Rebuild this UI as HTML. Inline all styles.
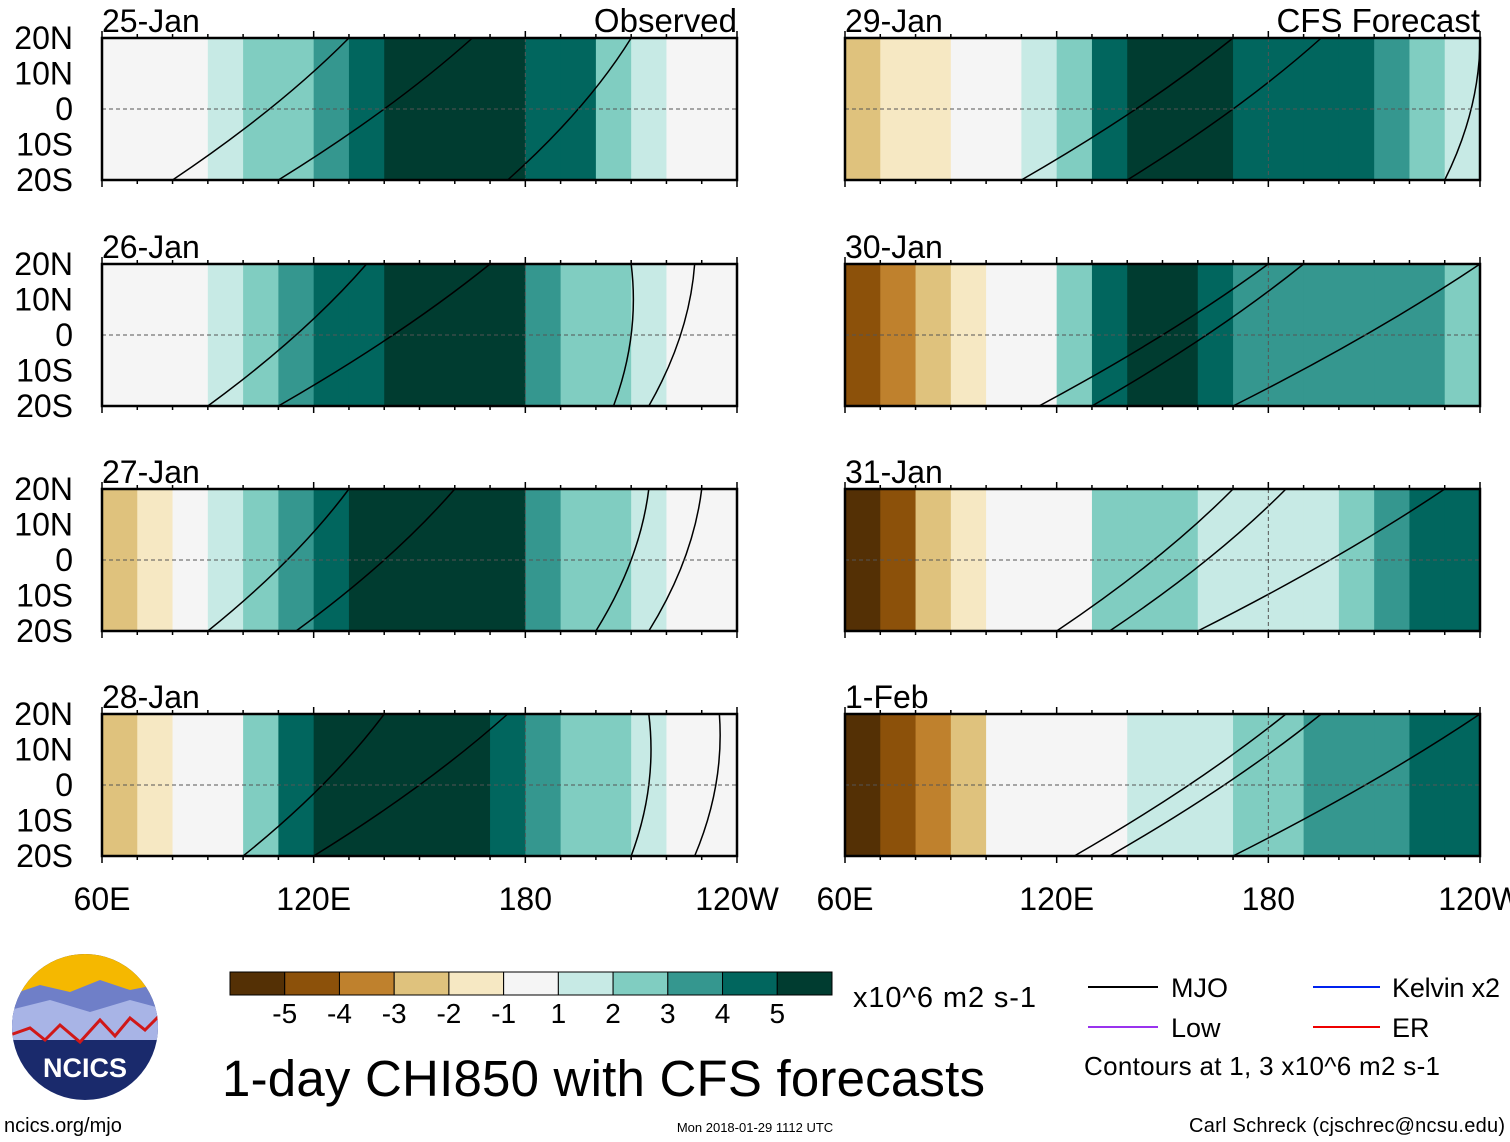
<!DOCTYPE html>
<html><head><meta charset="utf-8"><style>
body{margin:0;background:#fff;}
svg{display:block;font-family:"Liberation Sans",Arial,sans-serif;}
</style></head><body>
<svg id="chart" width="1510" height="1142" viewBox="0 0 1510 1142" xmlns="http://www.w3.org/2000/svg">
<g id="panels"></g>
<g id="bottom">
  <g>
    <defs><clipPath id="lc"><circle cx="85" cy="1027" r="73"/></clipPath></defs>
    <g clip-path="url(#lc)">
      <rect x="10" y="950" width="150" height="160" fill="#1a2a6c"/>
      <rect x="10" y="950" width="150" height="45" fill="#f5b800"/>
      <path d="M10 995 L40 985 L70 992 L100 980 L130 990 L160 984 L160 1030 L10 1030Z" fill="#6f7fc8"/>
      <path d="M10 1010 L50 1000 L90 1012 L130 1000 L160 1008 L160 1040 L10 1040Z" fill="#a8b4e6"/>
      <path d="M10 1035 L30 1028 L45 1040 L60 1025 L80 1042 L100 1020 L115 1036 L130 1018 L145 1030 L160 1015" fill="none" stroke="#d01818" stroke-width="3"/>
    </g>
    <text x="85" y="1077" font-size="27" font-weight="bold" fill="#fff" text-anchor="middle">NCICS</text>
  </g>
  <text x="4" y="1132" font-size="20">ncics.org/mjo</text>
  <text x="755" y="1132" font-size="13" text-anchor="middle">Mon 2018-01-29 1112 UTC</text>
  <text x="1505" y="1132" font-size="20" text-anchor="end" textLength="316">Carl Schreck (cjschrec@ncsu.edu)</text>
  <text x="222" y="1096" font-size="51" textLength="763">1-day CHI850 with CFS forecasts</text>
  <text x="853" y="1007" font-size="29" textLength="183">x10^6 m2 s-1</text>
  <g id="cbar"></g>
  <g>
    <line x1="1088" y1="987" x2="1158" y2="987" stroke="#000" stroke-width="2"/><text x="1171" y="997" font-size="27">MJO</text>
    <line x1="1088" y1="1027" x2="1158" y2="1027" stroke="#9933ee" stroke-width="2"/><text x="1171" y="1037" font-size="27">Low</text>
    <line x1="1313" y1="987" x2="1380" y2="987" stroke="#0022ee" stroke-width="2"/><text x="1392" y="997" font-size="27" textLength="108">Kelvin x2</text>
    <line x1="1313" y1="1027" x2="1380" y2="1027" stroke="#ee0000" stroke-width="2"/><text x="1392" y="1037" font-size="27">ER</text>
    <text x="1084" y="1075" font-size="26" textLength="356">Contours at 1, 3 x10^6 m2 s-1</text>
  </g>
</g>
</svg>
<script>
const NS="http://www.w3.org/2000/svg";
const panelDates=["25-Jan","26-Jan","27-Jan","28-Jan","29-Jan","30-Jan","31-Jan","1-Feb"];
const lonBins=[60,70,80,90,100,110,120,130,140,150,160,170,180,190,200,210,220,230];
const chi25=[0,0.5,0.5,1.5,2,2.5,3,4,5.5,5.5,5.5,5.5,4.5,4,2.5,1.5,0.5,0];
const chi26=[0,0,0.3,1,2,3,4,4.5,5.5,5.5,5.5,5.5,3.5,2.5,2,1,0,0];
const chi27=[-2.5,-1.5,-0.5,1,2,3,4,5,5.5,5.5,5.5,5.5,3,2,2,1.5,0,0];
const chi28=[-2.5,-1.5,-0.5,0.5,2,4.5,5.5,5.5,5.5,5.5,5.5,4.5,3,2.5,2,1.5,0.5,0];
const chi29=[-2.5,-2,-1.5,-0.5,0.5,1.5,2.5,4,5,5.5,5.5,4.5,4,4.5,4,3.5,2.5,1];
const chi30=[-4.5,-4,-3,-1.5,0,0.5,2,4,5,5,4.5,3.5,3,3,3,3.5,3,2];
const chi31=[-5.5,-4.5,-3,-1.5,-0.5,0,0.5,2,2.5,2,1.5,1.5,1,1,2,3,4,4.5];
const chi01=[-5.5,-4.5,-3.5,-2.5,-1,0,0,0.5,1,1,1.5,2,2.5,3,3,3.5,4,4.5];
const chiSeries=[chi25,chi26,chi27,chi28,chi29,chi30,chi31,chi01];
const mjoSouth=[[80,110,175],[90,110,205,215],[90,115,200,215],[100,120,210,228],[110,140,230],[115,130,170],[120,135,160],[125,135,170]];
const mjoNorth=[[130,165,210,220],[135,170,210,228],[130,160,215,230],[140,175,215,235],[170,195,240],[180,190,240],[170,185,230],[185,195,240]];
const cbarLabels=["-5","-4","-3","-2","-1","1","2","3","4","5"];
const colors=["#543005","#8c510a","#bf812d","#dfc27d","#f6e8c3","#f5f5f5","#c7eae5","#80cdc1","#35978f","#01665e","#003c30"];
const latTicks=["20N","10N","0","10S","20S"];
const lonTicks=["60E","120E","180","120W"];

function colorFor(v){const edges=[-5,-4,-3,-2,-1,1,2,3,4,5];let i=0;while(i<edges.length&&v>=edges[i])i++;return colors[i];}
function mk(tag,attrs,parent){const e=document.createElementNS(NS,tag);for(const k in attrs)e.setAttribute(k,attrs[k]);parent.appendChild(e);return e;}
const panelsG=document.getElementById('panels');
const PW=635,PH=142;
const lefts=[102,845];const tops=[38,264,489,714];
panelDates.forEach((d,p)=>{
  const x0=lefts[p<4?0:1], y0=tops[p%4];
  const xs=lon=>x0+(lon-60)/180*PW;
  const ys=lat=>y0+(20-lat)/40*PH;
  const g=mk('g',{},panelsG);
  
  
  chiSeries[p].forEach((v,i)=>{
    const r=mk('rect',{x:xs(lonBins[i]),y:y0,width:xs(lonBins[i]+10)-xs(lonBins[i])+0.5,height:PH,fill:colorFor(v)},g);
    
    
  });
  mjoSouth[p].forEach((ls,i)=>{
    const ln=mjoNorth[p][i];
    const l=mk('path',{d:`M${xs(ls)} ${ys(-20)} Q${xs((ls+ln)/2+5)} ${ys(0)} ${xs(Math.min(ln,240))} ${ys(20)}`,fill:'none',stroke:'#000','stroke-width':1.5},g);
    
    
  });
  mk('line',{x1:x0,y1:ys(0),x2:x0+PW,y2:ys(0),stroke:'#555','stroke-dasharray':'4,3','stroke-width':1},g);
  mk('line',{x1:xs(180),y1:y0,x2:xs(180),y2:y0+PH,stroke:'#555','stroke-dasharray':'4,3','stroke-width':1},g);
  const f=mk('rect',{x:x0,y:y0,width:PW,height:PH,fill:'none',stroke:'#000','stroke-width':2.5},g);
  
  
  for(let lon=60;lon<=240;lon+=10){const tl=lon%60==0?7:4;
    mk('line',{x1:xs(lon),y1:y0,x2:xs(lon),y2:y0-tl,stroke:'#000','stroke-width':1.5},g);
    mk('line',{x1:xs(lon),y1:y0+PH,x2:xs(lon),y2:y0+PH+tl,stroke:'#000','stroke-width':1.5},g);}
  const t=mk('text',{x:x0,y:y0-6,'font-size':32},g);t.textContent=d;
  
  
  if(p==0||p==4){const s=mk('text',{x:x0+PW,y:y0-6,'font-size':33,'text-anchor':'end'},g);s.textContent=p==0?'Observed':'CFS Forecast';
    
    }
  if(p<4){latTicks.forEach((lt,i)=>{const a=mk('text',{x:73,y:y0+i*PH/4+11,'font-size':32,'text-anchor':'end'},g);a.textContent=lt;
    
    });}
  if(p%4==3){lonTicks.forEach((lt,i)=>{const a=mk('text',{x:x0+i*PW/3,y:910,'font-size':32,'text-anchor':'middle'},g);a.textContent=lt;
    
    });}
});
const cb=document.getElementById('cbar');const bw=602/11;
colors.forEach((c,i)=>{const r=mk('rect',{x:230+i*bw,y:972,width:bw,height:23,fill:c,stroke:'#000','stroke-width':1},cb);
  
  });
cbarLabels.forEach((l,i)=>{const t=mk('text',{x:230+(i+1)*bw,y:1023,'font-size':28,'text-anchor':'middle'},cb);t.textContent=l;
  
  });
</script>
</body></html>
